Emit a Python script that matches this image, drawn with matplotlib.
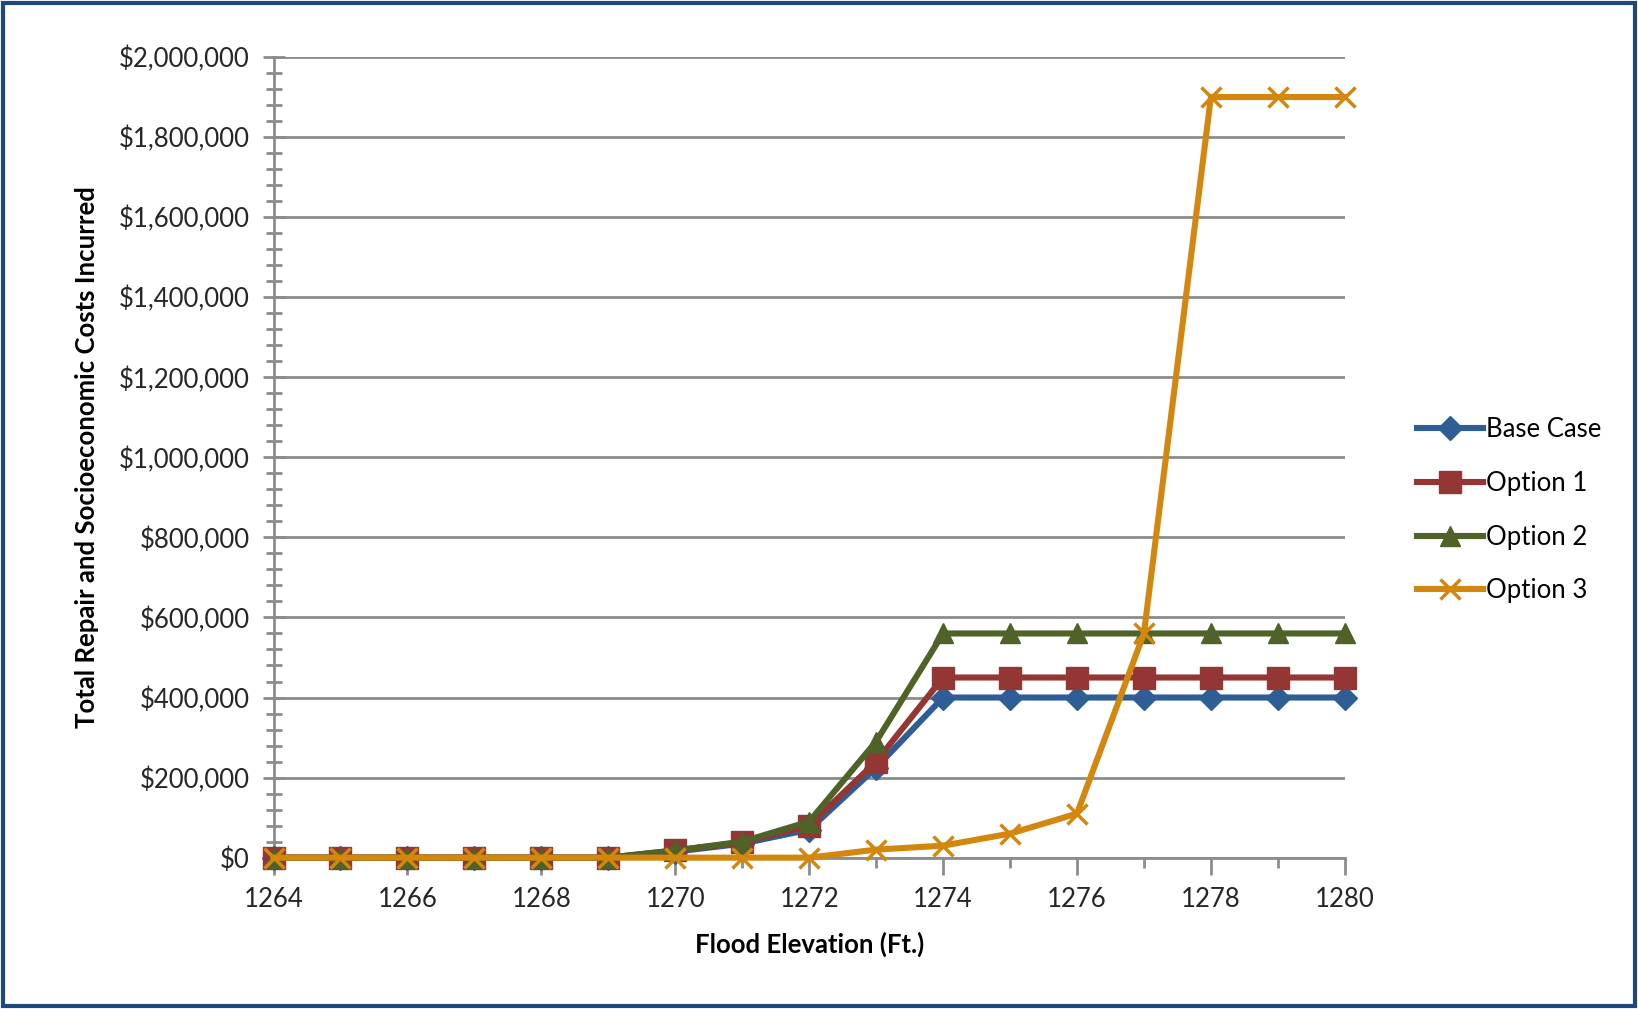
import numpy as np
import matplotlib.pyplot as plt
from matplotlib.ticker import MultipleLocator, FuncFormatter
from matplotlib.patches import Rectangle

plt.rcParams['font.family'] = ['Lato', 'DejaVu Sans']

elevation = [1264, 1265, 1266, 1267, 1268, 1269, 1270, 1271, 1272, 1273, 1274, 1275, 1276, 1277, 1278, 1279, 1280]
base_case = [0, 0, 0, 0, 0, 0, 15000, 35000, 70000, 225000, 400000, 400000, 400000, 400000, 400000, 400000, 400000]
option_1 = [0, 0, 0, 0, 0, 0, 18000, 38000, 80000, 240000, 450000, 450000, 450000, 450000, 450000, 450000, 450000]
option_2 = [0, 0, 0, 0, 0, 0, 18000, 40000, 90000, 290000, 560000, 560000, 560000, 560000, 560000, 560000, 560000]
option_3 = [0, 0, 0, 0, 0, 0, 0, 0, 0, 20000, 30000, 60000, 110000, 560000, 1900000, 1900000, 1900000]

series = [
    ('Base Case', base_case, '#2F5E96', 'D', 12),
    ('Option 1', option_1, '#943634', 's', 16),
    ('Option 2', option_2, '#4F6228', '^', 15),
    ('Option 3', option_3, '#D4870F', 'x', 14),
]

fig = plt.figure(figsize=(16.38, 10.09), dpi=100)
ax = fig.add_axes([0.167, 0.150, 0.654, 0.7935])

for name, vals, col, mk, ms in series:
    kw = dict(markeredgewidth=2.5) if mk == 'x' else dict(markeredgecolor=col)
    ax.plot(elevation, vals, color=col, lw=4.4, marker=mk, markersize=ms,
            markerfacecolor=col, label=name, clip_on=False, zorder=3, **kw)

ax.set_xlim(1264, 1280)
ax.set_ylim(0, 2000000)
ax.xaxis.set_major_locator(MultipleLocator(2))
ax.xaxis.set_minor_locator(MultipleLocator(1))
ax.yaxis.set_major_locator(MultipleLocator(200000))
ax.yaxis.set_minor_locator(MultipleLocator(40000))
ax.yaxis.set_major_formatter(FuncFormatter(lambda v, p: '${:,.0f}'.format(v)))

grid_col = '#8C8C8C'
ax.grid(axis='y', which='major', color=grid_col, lw=2)
ax.set_axisbelow(True)
for s in ['top', 'right']:
    ax.spines[s].set_visible(False)
for s in ['left', 'bottom']:
    ax.spines[s].set_color(grid_col)
    ax.spines[s].set_linewidth(2)

ax.tick_params(axis='y', which='major', direction='inout', length=16, width=2, color=grid_col,
               labelsize=18.5, pad=9, labelcolor='#262626')
ax.tick_params(axis='y', which='minor', direction='inout', length=12, width=2, color=grid_col)
ax.tick_params(axis='x', which='major', direction='out', length=12, width=2, color=grid_col,
               labelsize=18.5, pad=9, labelcolor='#262626')
ax.tick_params(axis='x', which='minor', direction='out', length=7, width=2, color=grid_col)

ax.set_xlabel('Flood Elevation (Ft.)', fontsize=18.5, fontweight='bold', labelpad=14)
ax.set_ylabel('Total Repair and Socioeconomic Costs Incurred', fontsize=18.5, fontweight='bold', labelpad=14)

leg = ax.legend(loc='center left', bbox_to_anchor=(1.055, 0.434), frameon=False, fontsize=18.5,
                handlelength=2.6, handletextpad=0.1, labelspacing=1.12, borderpad=0)

# dark blue frame around the whole chart
fig.patches.append(Rectangle((0.002, 0.003), 0.996, 0.994, transform=fig.transFigure,
                             fill=False, edgecolor='#1F497D', lw=3))

fig.savefig('out.png', dpi=100)
